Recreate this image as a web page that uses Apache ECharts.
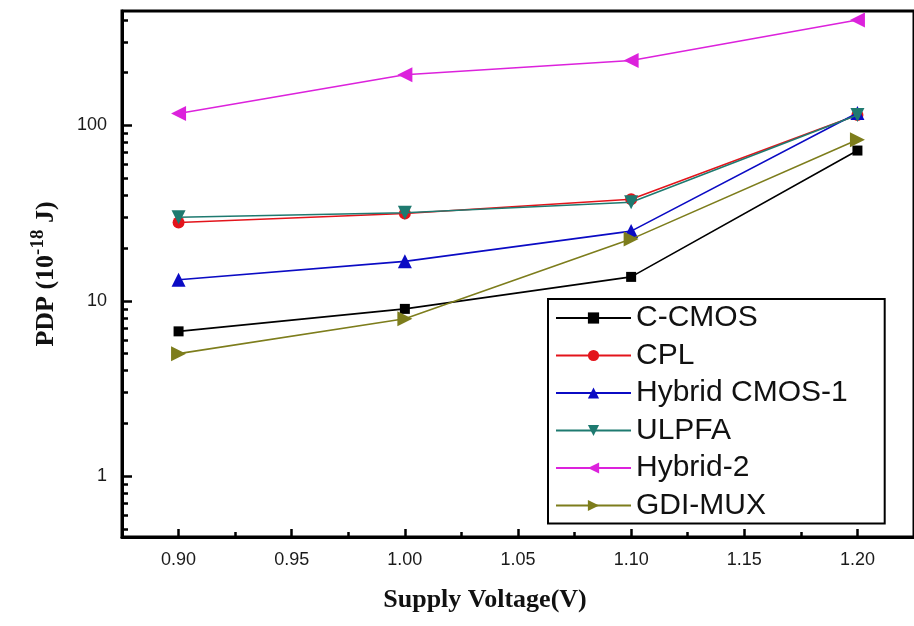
<!DOCTYPE html>
<html>
<head>
<meta charset="utf-8">
<script src="https://cdn.jsdelivr.net/npm/echarts@6/dist/echarts.min.js"></script>
<style>
  html, body { margin: 0; padding: 0; background: #fff; }
  #chart { width: 914px; height: 626px; }
</style>
</head>
<body>
<div id="chart"></div>
<script>
// supply voltage (V)
const voltages = [0.90, 1.00, 1.10, 1.20]
// PDP values (10^-18 J)
const cCmos = [6.7, 9.0, 13.7, 72]
const cpl = [28, 31.5, 38, 115]
const hybridCmos1 = [13.2, 16.8, 25, 118]
const ulpfa = [30, 31.8, 36.5, 115]
const hybrid2 = [117, 195, 235, 400]
const gdiMux = [5.0, 7.9, 22.5, 83]

// axis ticks
const xTickLabels = [0.90, 0.95, 1.00, 1.05, 1.10, 1.15, 1.20]
const xMinorTicks = [0.925, 0.975, 1.025, 1.075, 1.125, 1.175]
const yTickLabels = [1, 10, 100]
const yMinorTicks = [0.5, 0.6, 0.7, 0.8, 0.9, 2, 3, 4, 5, 6, 7, 8, 9, 20, 30, 40, 50, 60, 70, 80, 90, 200, 300, 400]

const X_MIN = 0.875
const X_MAX = 1.225
const Y_MIN = 0.45
const Y_MAX = 450

const seriesDefs = [
  { name: 'C-CMOS', values: cCmos, color: '#000000', symbol: 'rect', size: 10, rotate: 0 },
  { name: 'CPL', values: cpl, color: '#e3141b', symbol: 'circle', size: 12, rotate: 0 },
  { name: 'Hybrid CMOS-1', values: hybridCmos1, color: '#0b0bc4', symbol: 'triangle', size: 14, rotate: 0 },
  { name: 'ULPFA', values: ulpfa, color: '#1e7a70', symbol: 'triangle', size: 14, rotate: 180 },
  { name: 'Hybrid-2', values: hybrid2, color: '#dc22dc', symbol: 'triangle', size: 15, rotate: 90 },
  { name: 'GDI-MUX', values: gdiMux, color: '#7d7d1c', symbol: 'triangle', size: 15, rotate: -90 }
]

const labelFont = { fontFamily: 'Liberation Sans', fontSize: 18, color: '#1a1a1a' }

var myChart = echarts.init(document.getElementById('chart'), null, { renderer: 'canvas' })

var option = {
  animation: false,
  backgroundColor: '#fff',
  grid: {
    left: 122,
    top: 11,
    bottom: 89,
    right: -7,
    show: true,
    borderColor: '#000',
    borderWidth: 3
  },
  legend: {
    orient: 'vertical',
    left: 548,
    top: 299,
    padding: [4, 37, 3, 7],
    itemWidth: 75,
    itemHeight: 14,
    itemGap: 7.5,
    borderColor: '#000',
    borderWidth: 2,
    textStyle: { fontFamily: 'Liberation Sans', fontSize: 30, lineHeight: 30, color: '#111' },
    data: seriesDefs.map(s => s.name)
  },
  xAxis: [
    {
      type: 'value',
      min: X_MIN,
      max: X_MAX,
      position: 'bottom',
      splitLine: { show: false },
      axisLine: { show: true, onZero: false, lineStyle: { color: '#000', width: 3 } },
      axisTick: { inside: true, length: 8, customValues: xTickLabels, lineStyle: { color: '#000', width: 2.5 } },
      axisLabel: {
        customValues: xTickLabels,
        margin: 14,
        formatter: v => v.toFixed(2),
        ...labelFont
      },
      name: 'Supply Voltage(V)',
      nameLocation: 'middle',
      nameGap: 50,
      nameTextStyle: {
        fontFamily: 'Liberation Serif',
        fontWeight: 'bold',
        fontSize: 26,
        color: '#111',
        padding: [0, 66, 0, 0]
      }
    },
    {
      type: 'value',
      min: X_MIN,
      max: X_MAX,
      position: 'bottom',
      splitLine: { show: false },
      axisLine: { show: false, onZero: false },
      axisTick: { inside: true, length: 5, customValues: xMinorTicks, lineStyle: { color: '#000', width: 2.5 } },
      axisLabel: { show: false }
    }
  ],
  yAxis: [
    {
      type: 'log',
      min: Y_MIN,
      max: Y_MAX,
      position: 'left',
      splitLine: { show: false },
      axisLine: { show: true, onZero: false, lineStyle: { color: '#000', width: 3 } },
      axisTick: { inside: true, length: 10, lineStyle: { color: '#000', width: 2.5 } },
      axisLabel: {
        margin: 15,
        showMinLabel: false,
        showMaxLabel: false,
        formatter: v => (yTickLabels.indexOf(Math.round(v * 1000) / 1000) >= 0 ? String(Math.round(v)) : ''),
        ...labelFont
      },
      name: '{b|PDP (10}{s|-18}{b| J)}',
      nameLocation: 'middle',
      nameGap: 58,
      nameTextStyle: {
        rich: {
          b: { fontFamily: 'Liberation Serif', fontWeight: 'bold', fontSize: 26, color: '#111' },
          s: { fontFamily: 'Liberation Serif', fontWeight: 'bold', fontSize: 19, color: '#111', padding: [0, 0, 16, 0] }
        }
      }
    },
    {
      // minor decade ticks, placed on a log10 scale of the same range
      type: 'value',
      min: Math.log10(Y_MIN),
      max: Math.log10(Y_MAX),
      position: 'left',
      splitLine: { show: false },
      axisLine: { show: false, onZero: false },
      axisTick: { inside: true, length: 6, customValues: yMinorTicks.map(v => Math.log10(v)), lineStyle: { color: '#000', width: 2.5 } },
      axisLabel: { show: false }
    }
  ],
  series: seriesDefs.map((s, i) => ({
    name: s.name,
    type: 'line',
    xAxisIndex: 0,
    yAxisIndex: 0,
    data: voltages.map((v, k) => [v, s.values[k]]),
    symbol: s.symbol,
    symbolSize: s.size,
    symbolRotate: s.rotate,
    itemStyle: { color: s.color },
    lineStyle: { color: s.color, width: 1.6 },
    z: 2 + i
  }))
}

myChart.setOption(option, true)

window.addEventListener('resize', function () {
  myChart && myChart.resize()
})
</script>
</body>
</html>
